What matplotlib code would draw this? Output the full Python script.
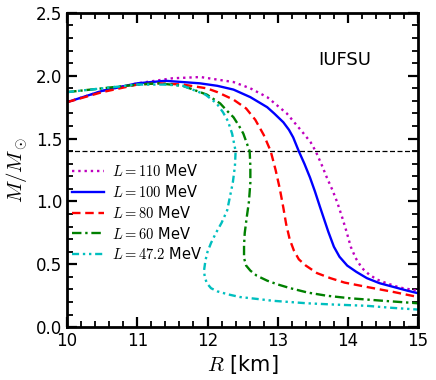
import matplotlib
matplotlib.use("Agg")
import matplotlib.pyplot as plt
from matplotlib.ticker import MultipleLocator

plt.rcParams['mathtext.fontset'] = 'cm'
plt.rcParams['font.family'] = ['DejaVu Sans']

# L = 110 MeV
R_110 = [10.0, 10.5, 11.0, 11.5, 11.9, 12.37, 12.61, 12.85, 13.13, 13.37, 13.47, 13.54, 13.62, 13.70, 13.78, 13.85,
         13.92, 13.98, 14.04, 14.11, 14.2, 14.3, 14.41, 14.55, 14.74, 15.0]
M_110 = [1.79, 1.88, 1.94, 1.98, 1.99, 1.95, 1.90, 1.83, 1.70, 1.54, 1.47, 1.40, 1.30, 1.19, 1.09, 0.99,
         0.87, 0.76, 0.64, 0.55, 0.47, 0.42, 0.38, 0.35, 0.315, 0.29]
# L = 100 MeV
R_100 = [10.0, 10.5, 11.0, 11.4, 11.89, 12.14, 12.37, 12.61, 12.85, 12.95, 13.08, 13.16, 13.22, 13.3, 13.38, 13.46,
         13.53, 13.6, 13.66, 13.72, 13.8, 13.88, 13.99, 14.12, 14.27, 14.45, 14.65, 14.85, 15.0]
M_100 = [1.79, 1.88, 1.94, 1.96, 1.94, 1.92, 1.89, 1.83, 1.75, 1.70, 1.63, 1.57, 1.51, 1.40, 1.30, 1.19,
         1.08, 0.96, 0.86, 0.76, 0.64, 0.56, 0.49, 0.44, 0.39, 0.35, 0.32, 0.29, 0.27]
# L = 80 MeV
R_80 = [10.0, 10.5, 11.0, 11.3, 11.65, 11.99, 12.14, 12.37, 12.55, 12.68, 12.8, 12.9, 12.97, 13.03, 13.08, 13.12,
        13.17, 13.23, 13.3, 13.4, 13.56, 13.75, 13.95, 14.27, 14.65, 15.0]
M_80 = [1.79, 1.87, 1.93, 1.94, 1.93, 1.90, 1.87, 1.81, 1.74, 1.65, 1.53, 1.40, 1.25, 1.10, 0.95, 0.82,
        0.70, 0.61, 0.54, 0.49, 0.43, 0.39, 0.355, 0.32, 0.28, 0.24]
# L = 60 MeV
R_60 = [10.0, 10.5, 11.0, 11.3, 11.65, 11.99, 12.18, 12.28, 12.37, 12.45, 12.51, 12.6, 12.61, 12.61, 12.59, 12.56,
        12.53, 12.52, 12.52, 12.55, 12.61, 12.7, 12.85, 13.0, 13.18, 13.43, 13.7, 14.03, 14.5, 15.0]
M_60 = [1.87, 1.90, 1.93, 1.94, 1.92, 1.85, 1.78, 1.72, 1.67, 1.60, 1.54, 1.40, 1.28, 1.15, 1.00, 0.88,
        0.75, 0.65, 0.55, 0.49, 0.45, 0.41, 0.37, 0.34, 0.31, 0.275, 0.25, 0.23, 0.21, 0.19]
# L = 47.2 MeV
R_47 = [10.0, 10.5, 11.0, 11.4, 11.65, 11.97, 12.13, 12.22, 12.29, 12.35, 12.4, 12.39, 12.36, 12.32, 12.28,
        12.2, 12.12, 12.05, 12.0, 11.97, 11.95, 11.96, 11.99, 12.05, 12.14, 12.3, 12.46, 12.7, 12.93, 13.42, 13.8,
        14.27, 14.6, 15.0]
M_47 = [1.87, 1.90, 1.93, 1.93, 1.92, 1.85, 1.78, 1.71, 1.64, 1.54, 1.40, 1.28, 1.15, 1.04, 0.93,
        0.83, 0.75, 0.67, 0.60, 0.53, 0.45, 0.40, 0.35, 0.31, 0.285, 0.26, 0.24, 0.225, 0.21, 0.19, 0.18,
        0.17, 0.155, 0.14]

labels = [r'$L=110$ MeV', r'$L=100$ MeV', r'$L=80$ MeV', r'$L=60$ MeV', r'$L=47.2$ MeV']
M_canonical = 1.4

fig = plt.figure(figsize=(4.36, 3.80), dpi=100)
ax = fig.add_axes([0.154, 0.139, 0.805, 0.827])

lw = 1.7
ax.axhline(M_canonical, color='k', ls='--', lw=0.9, dashes=(4, 2))
ax.plot(R_110, M_110, color='m', ls=':', lw=lw, label=labels[0])
ax.plot(R_100, M_100, color='b', ls='-', lw=lw, label=labels[1])
ax.plot(R_80, M_80, color='r', ls='--', lw=lw, dashes=(3.6, 2), label=labels[2])
ax.plot(R_60, M_60, color='g', ls='-.', lw=lw, dashes=(4, 1.6, 1, 1.6), label=labels[3])
ax.plot(R_47, M_47, color='c', lw=lw, dashes=(3, 1.6, 1, 1.6, 1, 1.6), label=labels[4])

ax.set_xlim(10, 15)
ax.set_ylim(0, 2.5)
ax.xaxis.set_major_locator(MultipleLocator(1))
ax.xaxis.set_minor_locator(MultipleLocator(0.2))
ax.yaxis.set_major_locator(MultipleLocator(0.5))
ax.yaxis.set_minor_locator(MultipleLocator(0.1))
ax.tick_params(which='both', direction='in', top=True, right=True, labelsize=12)
ax.tick_params(which='major', length=7, width=1.6)
ax.tick_params(which='minor', length=4, width=1.3)
for s in ax.spines.values():
    s.set_linewidth(2)

ax.set_xlabel(r'$R$ [km]', fontsize=15, labelpad=2)
ax.set_ylabel(r'$M/M_\odot$', fontsize=15, labelpad=4)

ax.text(0.79, 0.85, 'IUFSU', transform=ax.transAxes, fontsize=13, ha='center', va='center')

ax.legend(loc='upper left', bbox_to_anchor=(-0.01, 0.55), frameon=False, fontsize=10.5,
          handlelength=2.2, labelspacing=0.33, handletextpad=0.55, borderaxespad=0.2)

fig.savefig('out.png', dpi=100)
